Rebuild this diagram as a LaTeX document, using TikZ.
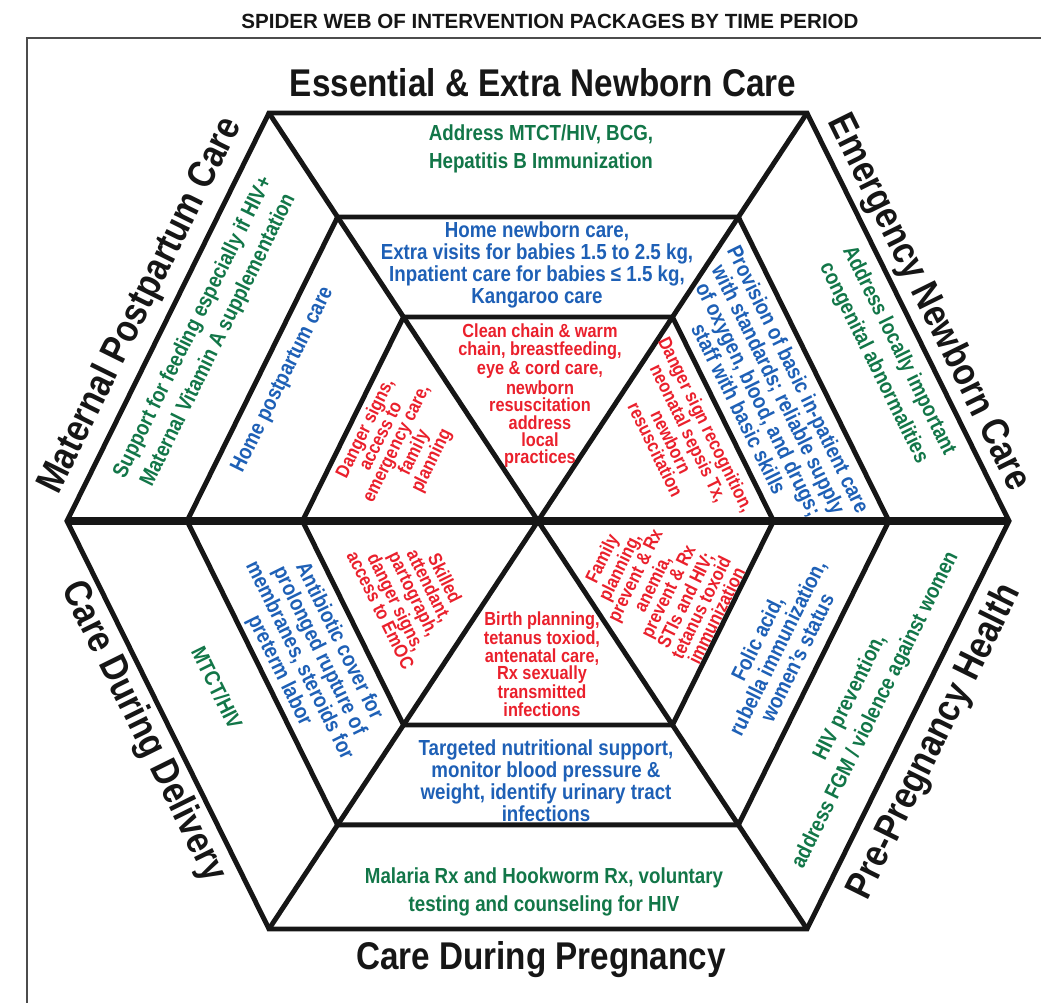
\documentclass[tikz,border=0pt]{standalone}
\usepackage{fontspec}
\setmainfont{Liberation Sans}[FakeStretch=0.86]
\newfontfamily\titlefont{Liberation Sans}[FakeStretch=1.0]
\usepackage{xcolor}
\definecolor{webgreen}{RGB}{18,118,72}
\definecolor{webblue}{RGB}{30,96,182}
\definecolor{webred}{RGB}{234,32,44}
\definecolor{webline}{RGB}{22,22,22}

\begin{document}
\begin{tikzpicture}[x=0.02cm, y=0.02cm,
    hexline/.style={line width=2.8pt, draw=webline, line join=miter},
    hdr/.style={inner sep=0pt, text=webline, font=\fontsize{22}{24}\selectfont\bfseries},
    grn/.style={inner sep=0pt, align=center, text=webgreen, font=\fontsize{12.4}{16}\selectfont\bfseries},
    blu/.style={inner sep=0pt, align=center, text=webblue, font=\fontsize{12.4}{12.6}\selectfont\bfseries},
    rd/.style={inner sep=0pt, align=center, text=webred, font=\fontsize{10.8}{9.9}\selectfont\bfseries}]
        \useasboundingbox (-538,-482) rectangle (503,521);

        % frame and title
        \draw[gray!60!black, line width=1.1pt] (-511,-482) -- (-511,483) -- (503,483);
        \node[inner sep=0pt, text=webline, font=\titlefont\fontsize{11.7}{13}\selectfont\bfseries] (title) at (12,500)
            {SPIDER WEB OF INTERVENTION PACKAGES BY TIME PERIOD};

        % the three rings and the spokes
        \foreach \s in {1,0.745,0.5}
            \draw[hexline, scale=\s] (-471,0) -- (-269,408) -- (269,408) -- (471,0)
                -- (269,-408) -- (-269,-408) -- cycle;
        \draw[hexline] (-269,408) -- (269,-408);
        \draw[hexline] (269,408) -- (-269,-408);
        \draw[hexline, line width=4.8pt] (-471,0) -- (471,0);

        % time periods
        \node[hdr] (essential) at (5,438) {Essential \& Extra Newborn Care};
        \node[hdr, rotate=-63.7] (emergency) at (390,218) {Emergency Newborn Care};
        \node[hdr, rotate=63.7] (prepreg) at (397,-221) {Pre-Pregnancy Health};
        \node[hdr] (pregnancy) at (3,-439) {Care During Pregnancy};
        \node[hdr, rotate=-63.7] (delivery) at (-395,-211) {Care During Delivery};
        \node[hdr, rotate=63.7] (postpartum) at (-397,215) {Maternal Postpartum Care};

        % outer ring
        \node[grn] (gtop) at (3,372) {Address MTCT/HIV, BCG,\\Hepatitis B Immunization};
        \node[grn, rotate=-63.7] (gtr) at (348,164) {Address locally important\\congenital abnormalities};
        \node[grn, rotate=63.7] (gbr) at (325,-183) {HIV prevention,\\address FGM / violence against women};
        \node[grn] (gbot) at (6,-371) {Malaria Rx and Hookworm Rx, voluntary\\testing and counseling for HIV};
        \node[grn, rotate=-63.7] (gbl) at (-321,-167) {MTCT/HIV};
        \node[grn, rotate=63.7] (gtl) at (-332,187) {Support for feeding especially if HIV+\\Maternal Vitamin A supplementation};

        % middle ring
        \node[blu] (btop) at (-1,256) {Home newborn care,\\Extra visits for babies 1.5 to 2.5 kg,\\Inpatient care for babies ≤ 1.5 kg,\\Kangaroo care};
        \node[blu, rotate=-63.7] (btr) at (231,127) {Provision of basic in-patient care\\with standards; reliable supply\\of oxygen, blood, and drugs;\\staff with basic skills};
        \node[blu, rotate=63.7] (bbr) at (239,-127) {Folic acid,\\rubella immunization,\\women's status};
        \node[blu] (bbot) at (8,-260) {Targeted nutritional support,\\monitor blood pressure \&\\weight, identify urinary tract\\infections};
        \node[blu, rotate=-63.7] (bbl) at (-229,-135) {Antibiotic cover for\\prolonged rupture of\\membranes, steroids for\\preterm labor};
        \node[blu, rotate=63.7] (btl) at (-255,141) {Home postpartum care};

        % inner ring
        \node[rd] (rtop) at (2,125) {Clean chain \& warm\\chain, breastfeeding,\\eye \& cord care,\\newborn\\resuscitation\\address\\local\\practices};
        \node[rd, rotate=-63.7] (rtr) at (143,84) {Danger sign recognition,\\neonatal sepsis Tx,\\newborn\\resuscitation};
        \node[rd, rotate=63.7] (rbr) at (121,-66) {Family\\planning,\\prevent \& Rx\\anemia,\\prevent \& Rx\\STIs and HIV;\\tetanus toxoid\\immunization};
        \node[rd] (rbot) at (4,-143) {Birth planning,\\tetanus toxiod,\\antenatal care,\\Rx sexually\\transmitted\\infections};
        \node[rd, rotate=-63.7] (rbl) at (-125,-73) {Skilled\\attendant,\\partograph,\\danger signs,\\access to EmOC};
        \node[rd, rotate=63.7] (rtl) at (-139,76) {Danger signs,\\access to\\emergency care,\\family\\planning};
    \end{tikzpicture}
\end{document}
